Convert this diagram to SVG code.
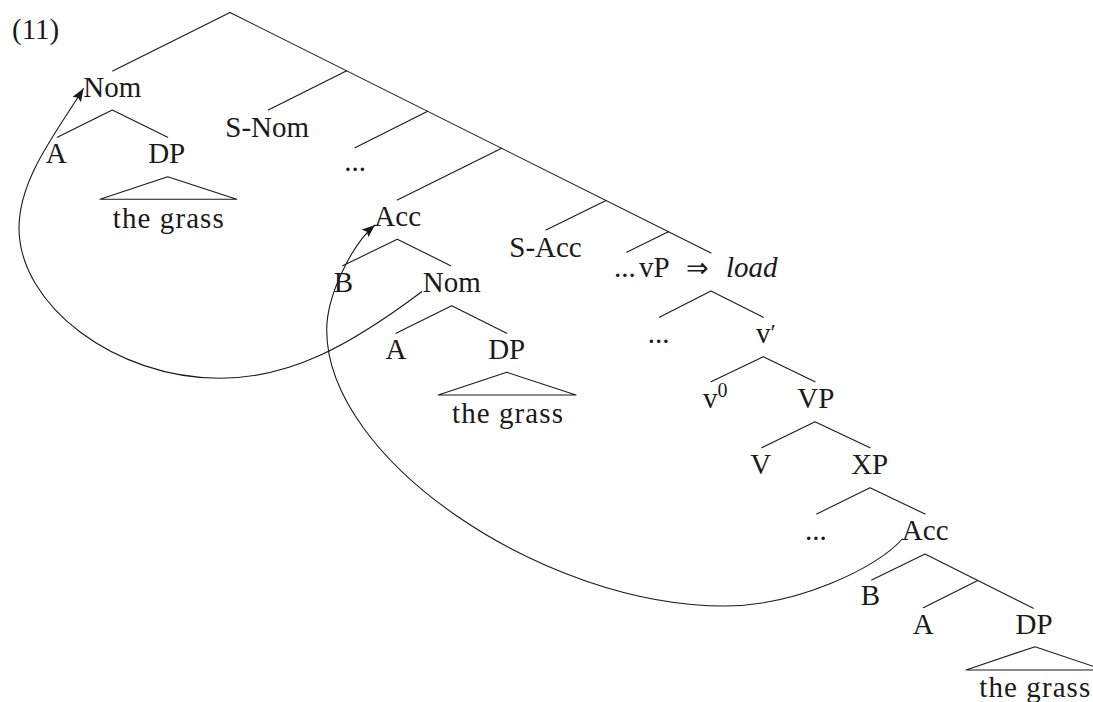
<svg xmlns="http://www.w3.org/2000/svg" width="1093" height="702" viewBox="0 0 1093 702">
<style>
text{font-family:"Liberation Serif","Times New Roman",serif;font-size:29px;fill:#1a1a1a}
.m{text-anchor:middle}
.e{fill:none;stroke:#1a1a1a;stroke-width:1.1;stroke-linecap:round;stroke-linejoin:round}
.it{font-style:italic}
</style>
<defs>
<marker id="arr" markerUnits="userSpaceOnUse" markerWidth="16" markerHeight="12" refX="13" refY="5" orient="auto">
<path d="M0,0 L13,5 L0,10 L2.5,5 z" fill="#1a1a1a"/>
</marker>
</defs>
<rect width="1093" height="702" fill="#fff"/>
<text x="12" y="39">(11)</text>
<g id="connectors" class="e">
<path d="M112.7,71 L230,12.5 L711,253"/>
<path d="M346.7,70.8 L268.3,110"/>
<path d="M427.7,111.3 L355,147.7"/>
<path d="M501.7,148.3 L397.3,200"/>
<path d="M606,200.4 L546,230"/>
<path d="M668.3,231.7 L626.7,252.3"/>
<path d="M57.3,137.3 L112.3,110 L167.7,137.3"/>
<path d="M100,199.3 L167.7,176.7 L236.7,199.3 Z"/>
<path d="M342.7,265.7 L397.3,239.3 L450.7,265.7"/>
<path d="M396,333.3 L451.7,305.7 L506.7,333.3"/>
<path d="M438.3,395 L506.7,372.3 L576,395 Z"/>
<path d="M659.3,317.3 L711,291 L763.3,317.3"/>
<path d="M711,381.7 L763.3,356.7 L815,381.7"/>
<path d="M761.7,447.7 L815,421.7 L870,447.7"/>
<path d="M816.7,514 L870,487.7 L925,514"/>
<path d="M871.7,580 L925,554 L1033.3,608.3"/>
<path d="M977.7,580.4 L923.3,607.7"/>
<path d="M966,670 L1035,646.7 L1104,670 Z"/>
<path id="arrow-nom" marker-end="url(#arr)" d="M421.7,291.7 C349.7,345.7 290,378.3 220,378.3 C115,378.3 19,305 19,228 C19,178 57.4,131 83.5,88.5"/>
<path id="arrow-acc" marker-end="url(#arr)" d="M902.3,539 C875.9,569 795,606 725,606 C544,606 326.7,460 326.7,330 C326.7,295 352.1,244.4 375,225"/>
</g>
<g id="n-nom1"><text class="m" x="112.2" y="97">Nom</text></g>
<g id="n-a1"><text class="m" x="56.3" y="163">A</text></g>
<g id="n-dp1"><text class="m" x="166.7" y="163">DP</text></g>
<g id="n-grass1"><text class="m" x="168.3" y="228" textLength="111" lengthAdjust="spacing">the grass</text></g>
<g id="n-snom"><text class="m" x="267.2" y="137">S-Nom</text></g>
<g id="n-dots1"><text class="m" x="355" y="171">...</text></g>
<g id="n-acc1"><text class="m" x="397.7" y="226">Acc</text></g>
<g id="n-b1"><text class="m" x="343.3" y="291.7">B</text></g>
<g id="n-nom2"><text class="m" x="451.8" y="292.3">Nom</text></g>
<g id="n-a2"><text class="m" x="396" y="359">A</text></g>
<g id="n-dp2"><text class="m" x="506.7" y="359">DP</text></g>
<g id="n-grass2"><text class="m" x="507.5" y="423.3" textLength="111" lengthAdjust="spacing">the grass</text></g>
<g id="n-sacc"><text class="m" x="545.5" y="256.7">S-Acc</text></g>
<g id="n-vp"><text y="277.3"><tspan x="614">...</tspan><tspan x="639">vP</tspan><tspan x="686" style="font-family:'DejaVu Sans',sans-serif;font-size:27px">⇒</tspan><tspan x="726" class="it">load</tspan></text></g>
<g id="n-dots2"><text class="m" x="658.5" y="342.7">...</text></g>
<g id="n-vbar"><text x="756" y="342.7">v<tspan font-size="24" dy="-3">′</tspan></text></g>
<g id="n-v0"><text x="703" y="408.3">v<tspan font-size="20" dy="-11">0</tspan></text></g>
<g id="n-VP"><text class="m" x="815.8" y="408.3">VP</text></g>
<g id="n-V"><text class="m" x="760.8" y="474">V</text></g>
<g id="n-XP"><text class="m" x="869.7" y="474">XP</text></g>
<g id="n-dots3"><text class="m" x="815.8" y="540">...</text></g>
<g id="n-acc2"><text class="m" x="925.2" y="540">Acc</text></g>
<g id="n-b2"><text class="m" x="870.5" y="605">B</text></g>
<g id="n-a3"><text class="m" x="923.3" y="634.3">A</text></g>
<g id="n-dp3"><text class="m" x="1034" y="634.3">DP</text></g>
<g id="n-grass3"><text x="979.3" y="697" textLength="111" lengthAdjust="spacing">the grass</text></g>
</svg>
